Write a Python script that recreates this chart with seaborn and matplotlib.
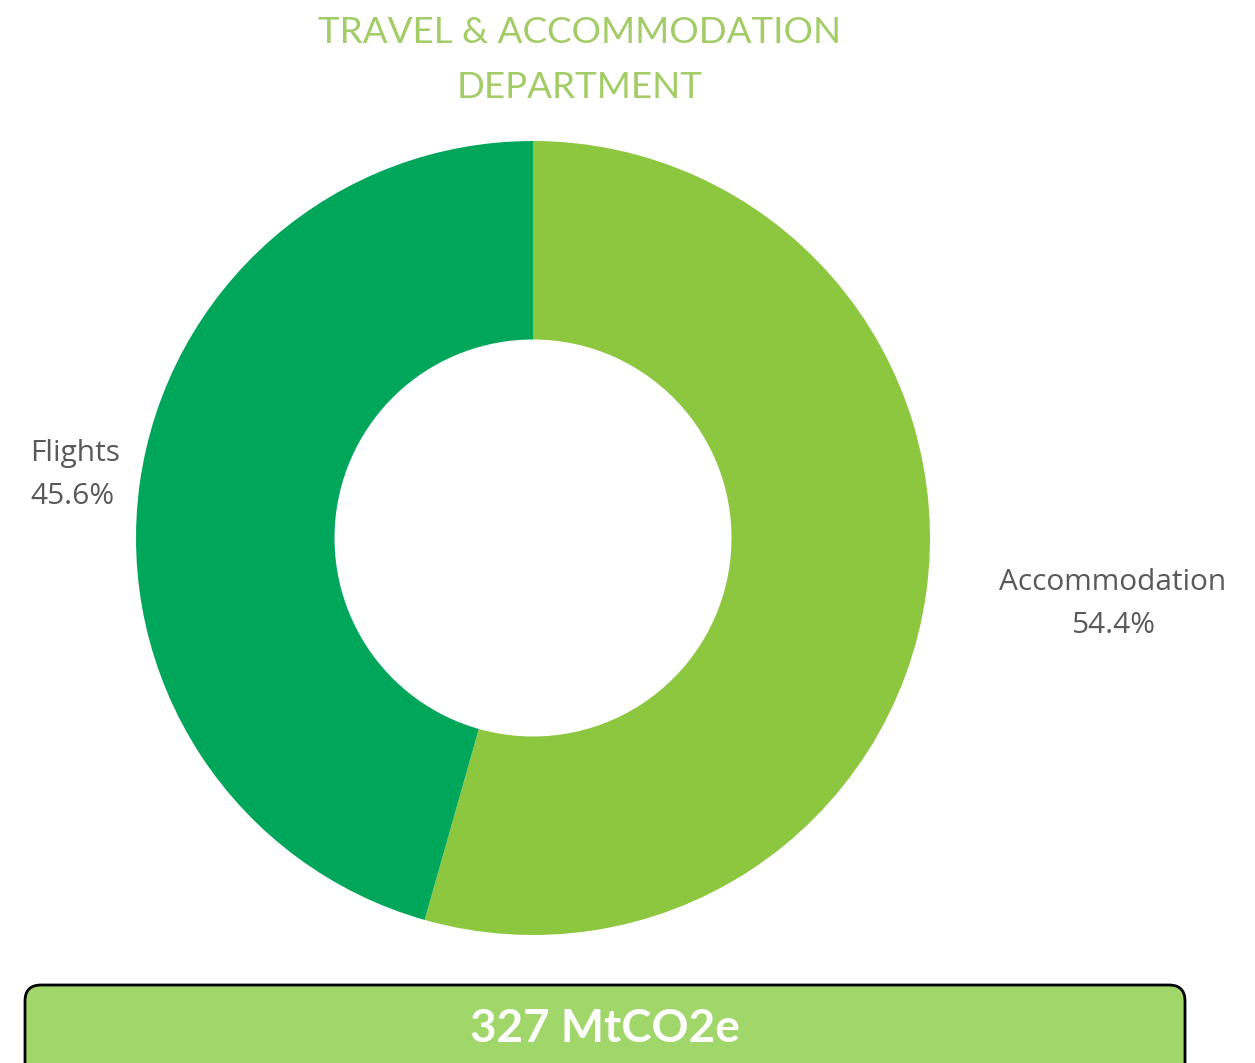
import matplotlib
matplotlib.use("Agg")
import matplotlib.pyplot as plt
import seaborn as sns
import numpy as np
from matplotlib.patches import FancyBboxPatch

sns.set_theme(style="white")
plt.rcParams['font.family'] = ['Open Sans', 'DejaVu Sans']

# data
categories = ["Accommodation", "Flights"]
shares = [54.4, 45.6]
colors = ["#8dc63f", "#00a65a"]
title = "TRAVEL & ACCOMMODATION\nDEPARTMENT"
total_label = "327 MtCO2e"

W, H = 1255, 1063
fig = plt.figure(figsize=(W / 100, H / 100), dpi=100)
ax = fig.add_axes([0, 0, 1, 1])
ax.set_xlim(0, W)
ax.set_ylim(0, H)
ax.set_aspect("equal")
ax.axis("off")

cx, cy, R = 533, H - 538, 397
wedges, _ = ax.pie(shares, colors=colors, startangle=90, counterclock=False,
                   radius=R, center=(cx, cy),
                   wedgeprops=dict(width=R * 0.5, edgecolor="none"))
ax.set_xlim(0, W)
ax.set_ylim(0, H)

# slice labels
ax.text(1113, H - 604, f"{categories[0]}\n{shares[0]:.1f}%", ha="center", va="center",
        fontsize=21.5, color="#595959", linespacing=1.65)
ax.text(30, H - 475, f"{categories[1]}\n{shares[1]:.1f}%", ha="left", va="center",
        fontsize=21.5, color="#595959", linespacing=1.65)

# title
ax.text(580, H - 60, title, ha="center", va="center", fontsize=26.5,
        color="#a3cc66", linespacing=1.8, family=["Lato", "DejaVu Sans"])

# total box
box = FancyBboxPatch((25, H - 1090), 1160, 105, boxstyle="round,pad=0,rounding_size=16",
                     facecolor="#a0d66a", edgecolor="black", linewidth=2, clip_on=False)
ax.add_patch(box)
ax.text(605, H - 1029, total_label, ha="center", va="center", fontsize=33,
        color="white", fontweight="bold", family=["Lato", "DejaVu Sans"])

fig.savefig("out.png", dpi=100)
